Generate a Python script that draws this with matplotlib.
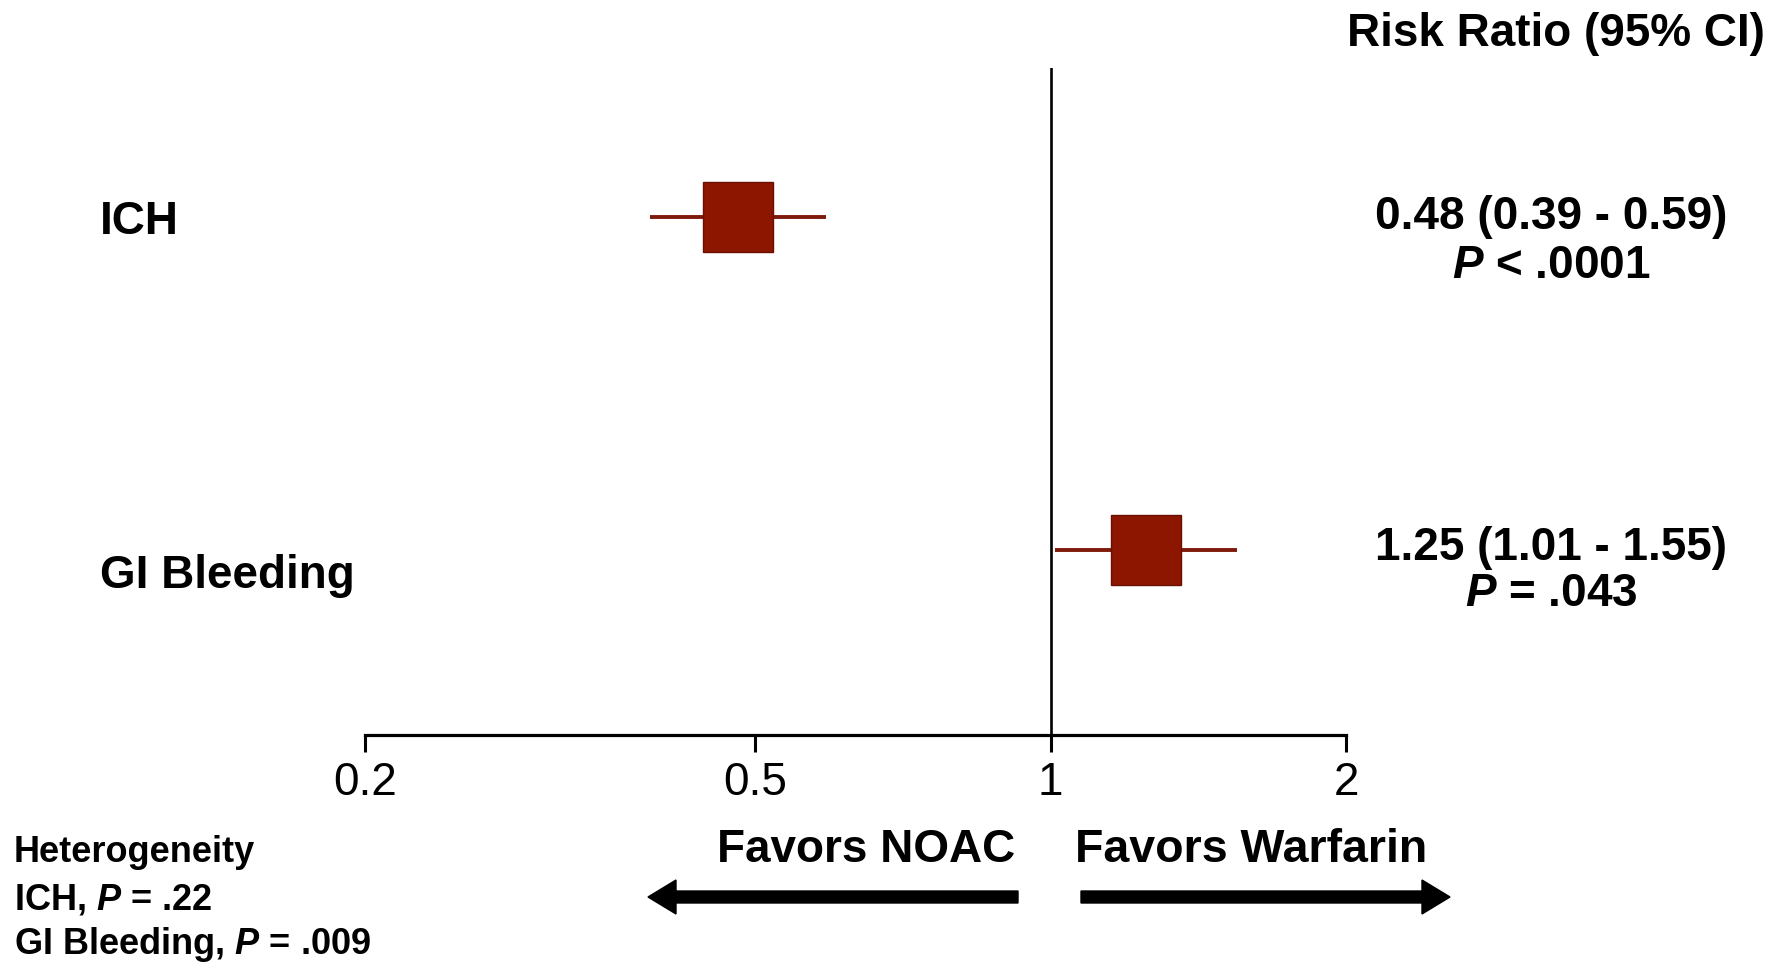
import matplotlib
matplotlib.use("Agg")
import matplotlib.pyplot as plt
from matplotlib.patches import FancyArrow
from matplotlib import font_manager

# ---- data ----
outcomes = ["ICH", "GI Bleeding"]
rr = [0.48, 1.25]
ci_lo = [0.39, 1.01]
ci_hi = [0.59, 1.55]
p_text = ["< .0001", "= .043"]
tick_vals = [0.2, 0.5, 1, 2]
tick_labels = ["0.2", "0.5", "1", "2"]
het_labels = ["ICH", "GI Bleeding"]
het_p = [".22", ".009"]

names = {f.name for f in font_manager.fontManager.ttflist}
narrow = "Liberation Sans Narrow" if "Liberation Sans Narrow" in names else "Liberation Sans"

plt.rcParams["font.family"] = ["Liberation Sans", "DejaVu Sans"]
plt.rcParams["mathtext.fontset"] = "custom"
plt.rcParams["mathtext.it"] = "Liberation Sans:italic:bold"
plt.rcParams["mathtext.rm"] = "Liberation Sans:bold"

W, H = 1788, 963
fig = plt.figure(figsize=(W / 100, H / 100), dpi=100)

# main forest axes
ax = fig.add_axes([365 / W, 1 - 735 / H, (1346 - 365) / W, (735 - 68) / H])
ax.set_xscale("log")
ax.set_xlim(0.2, 2)
ax.set_ylim(0.444, 2.447)
ypos = [2, 1]

sq_color = "#8C1600"
ci_color = "#7E1A0C"
for y, e, lo, hi in zip(ypos, rr, ci_lo, ci_hi):
    ax.hlines(y, lo, hi, color=ci_color, lw=2.8, zorder=2)
    ax.plot([e], [y], marker="s", markersize=50, color=sq_color,
            markeredgecolor="#6A1000", markeredgewidth=1.0, zorder=3, clip_on=False)

ax.axvline(1, color="black", lw=1.9, zorder=1)

for s in ["left", "right", "top"]:
    ax.spines[s].set_visible(False)
ax.spines["bottom"].set_linewidth(2.3)
ax.spines["bottom"].set_bounds(0.2, 2)
ax.set_yticks([])
ax.xaxis.set_minor_locator(matplotlib.ticker.NullLocator())
ax.set_xticks(tick_vals)
ax.set_xticklabels(tick_labels, fontfamily=narrow, fontsize=33)
ax.tick_params(axis="x", direction="out", length=12.5, width=2.2, pad=6, colors="black")
ax.patch.set_alpha(0)

# overlay axes in pixel coords for annotations
ov = fig.add_axes([0, 0, 1, 1])
ov.set_xlim(0, W)
ov.set_ylim(H, 0)
ov.axis("off")
ov.patch.set_alpha(0)

ov.text(1765, 34, "Risk Ratio (95% CI)", ha="right", va="center", fontsize=33, fontweight="bold")

label_y = [222, 576]
for name, ly in zip(outcomes, label_y):
    ov.text(100, ly, name, ha="left", va="center", fontsize=33, fontweight="bold")

est_y = [(217, 266), (548, 594)]
for (y1, y2), e, lo, hi, p in zip(est_y, rr, ci_lo, ci_hi, p_text):
    ov.text(1551, y1, f"{e:.2f} ({lo:.2f} - {hi:.2f})", ha="center", va="center",
            fontsize=33, fontweight="bold")
    ov.text(1551, y2, r"$P$" + f" {p}", ha="center", va="center",
            fontsize=33, fontweight="bold")

ov.text(1015, 850, "Favors NOAC", ha="right", va="center", fontsize=33, fontweight="bold")
ov.text(1075, 850, "Favors Warfarin", ha="left", va="center", fontsize=33.5, fontweight="bold")

ov.add_patch(FancyArrow(1018, 897, -(1018 - 648), 0, width=12, head_width=34,
                        head_length=28, length_includes_head=True, color="black"))
ov.add_patch(FancyArrow(1081, 897, 1450 - 1081, 0, width=12, head_width=34,
                        head_length=28, length_includes_head=True, color="black"))

ov.text(14, 853, "Heterogeneity", ha="left", va="center", fontsize=26, fontweight="bold")
for (lab, p), yy in zip(zip(het_labels, het_p), [900, 944]):
    ov.text(14, yy, f"{lab}, " + r"$P$" + f" = {p}", ha="left", va="center",
            fontsize=26, fontweight="bold")

fig.savefig("out.png", dpi=100, facecolor="white")
